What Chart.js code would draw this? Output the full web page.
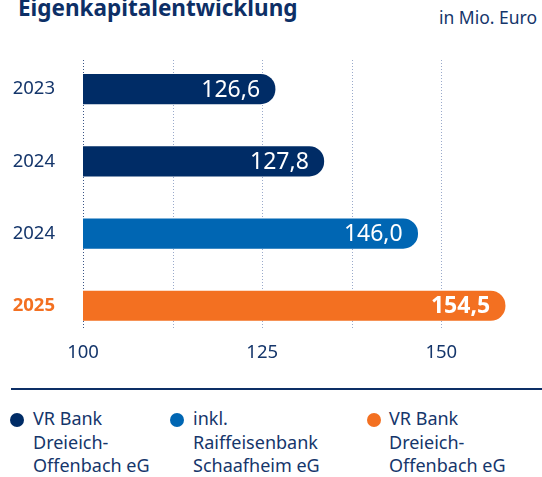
<!DOCTYPE html>
<html>
<head>
<meta charset="utf-8">
<script src="https://cdn.jsdelivr.net/npm/chart.js@4/dist/chart.umd.min.js"></script>
<style>
  html, body { margin:0; padding:0; background:#fff; }
  body { width:542px; height:477px; position:relative; overflow:hidden; font-family:"Noto Sans", sans-serif; color:#15366b; }
  #title { position:absolute; left:18px; top:-3px; font-size:22.5px; line-height:22px; font-weight:700; color:#0d2f66; white-space:nowrap; }
  #unit { position:absolute; right:5px; top:9px; font-size:17.5px; line-height:17.5px; color:#15366b; white-space:nowrap; }
  #chartWrap { position:absolute; left:0; top:0; width:542px; height:381px; }
  #rule { position:absolute; left:11px; right:0; top:388px; height:2px; background:#0d2f66; }
  .leg { position:absolute; top:407px; font-size:18px; line-height:23.5px; color:#15366b; white-space:nowrap; }
  .dot { position:absolute; width:14px; height:14px; border-radius:50%; top:413px; }
</style>
</head>
<body>
<div id="title">Eigenkapitalentwicklung</div>
<div id="unit">in Mio. Euro</div>
<div id="chartWrap"><canvas id="c" width="542" height="381"></canvas></div>
<div id="rule"></div>
<div id="legend"></div>
<script>
// ---- data ----
const categories = ['2023', '2024', '2024', '2025'];
const values = [126.6, 127.8, 146.0, 154.5];          // printed values
const barLengths = [126.8, 133.6, 146.7, 158.9];      // bar ends as drawn in the reference
const barColors = ['#002c66', '#002c66', '#0066b3', '#f37021'];
const tickValues = [100, 125, 150];
const gridValues = [100, 112.5, 125, 137.5, 150];
const legendLabels = [['VR Bank', 'Dreieich-', 'Offenbach eG'], ['inkl.', 'Raiffeisenbank', 'Schaafheim eG'], ['VR Bank', 'Dreieich-', 'Offenbach eG']];
const legendColors = ['#002c66', '#0066b3', '#f37021'];

const navy = '#15366b';
const fmt = v => v.toFixed(1).replace('.', ',');

// legend (HTML text)
const legPos = [{dot: 10, text: 33}, {dot: 170, text: 193}, {dot: 367, text: 389}];
const legEl = document.getElementById('legend');
legendLabels.forEach((lines, i) => {
  const d = document.createElement('div');
  d.className = 'dot';
  d.style.left = legPos[i].dot + 'px';
  d.style.background = legendColors[i];
  legEl.appendChild(d);
  const t = document.createElement('div');
  t.className = 'leg';
  t.style.left = legPos[i].text + 'px';
  t.innerHTML = lines.join('<br>');
  legEl.appendChild(t);
});

const gridPlugin = {
  id: 'dottedGrid',
  beforeDatasetsDraw(chart) {
    const {ctx, chartArea, scales} = chart;
    ctx.save();
    ctx.lineWidth = 1;
    ctx.setLineDash([1, 2]);
    gridValues.forEach((v, i) => {
      const x = Math.round(scales.x.getPixelForValue(v)) + 0.5;
      ctx.strokeStyle = i === 0 ? '#3a5586' : '#9aaacb';
      ctx.beginPath();
      ctx.moveTo(x, chartArea.top + 7);
      ctx.lineTo(x, chartArea.bottom - 12);
      ctx.stroke();
    });
    ctx.restore();
  }
};

const labelPlugin = {
  id: 'barLabels',
  afterDatasetsDraw(chart) {
    const {ctx} = chart;
    const meta = chart.getDatasetMeta(0);
    ctx.save();
    ctx.fillStyle = '#ffffff';
    ctx.textAlign = 'right';
    ctx.textBaseline = 'middle';
    meta.data.forEach((bar, i) => {
      ctx.font = (i === 3 ? '700 ' : '400 ') + '23px "Noto Sans"';
      ctx.fillText(fmt(values[i]), bar.x - 15, bar.y + 1);
    });
    ctx.restore();
  }
};

new Chart(document.getElementById('c'), {
  type: 'bar',
  data: {
    labels: categories,
    datasets: [{
      data: barLengths,
      backgroundColor: barColors,
      borderWidth: 0,
      borderRadius: 20,
      borderSkipped: 'start',
      barThickness: 29.5
    }]
  },
  options: {
    indexAxis: 'y',
    responsive: false,
    animation: false,
    devicePixelRatio: 1,
    layout: { padding: { top: 53, right: 29, bottom: 2, left: 0 } },
    plugins: { legend: { display: false }, tooltip: { enabled: false } },
    scales: {
      x: {
        type: 'linear',
        min: 100,
        max: 160,
        afterBuildTicks: s => { s.ticks = tickValues.map(v => ({ value: v })); },
        grid: { display: false, drawTicks: false },
        border: { display: false },
        ticks: { color: navy, font: { family: 'Noto Sans', size: 18.5 }, padding: 0, maxRotation: 0, callback: v => String(v) }
      },
      y: {
        type: 'category',
        grid: { display: false, drawTicks: false },
        border: { display: false },
        afterFit: s => { s.width = 83; },
        ticks: {
          padding: 28,
          color: ctx => ctx.index === 3 ? '#f37021' : navy,
          font: ctx => ({ family: 'Noto Sans', size: 18.5, weight: ctx.index === 3 ? '700' : '400' })
        }
      }
    }
  },
  plugins: [gridPlugin, labelPlugin]
});
</script>
</body>
</html>
